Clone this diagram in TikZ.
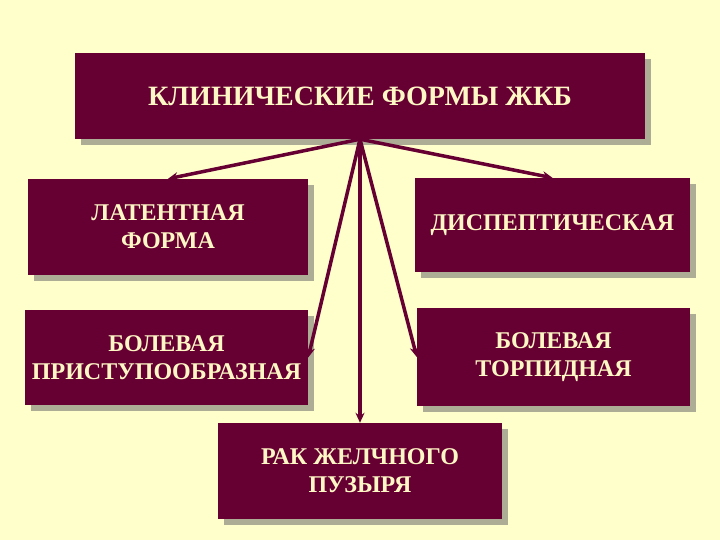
\documentclass[tikz,border=0pt]{standalone}
\usepackage{fontspec}
\setmainfont{Liberation Serif}
\usetikzlibrary{arrows.meta,shadows}
\definecolor{bgc}{HTML}{FFFFCC}
\definecolor{boxc}{HTML}{660033}
\definecolor{txtc}{HTML}{FFF8C4}
\definecolor{shc}{HTML}{ADAD96}
\tikzset{
  formbox/.style={rectangle, fill=boxc, text=txtc, inner sep=0pt, align=center,
    font=\fontsize{24}{28}\selectfont\bfseries,
    drop shadow={shadow xshift=6pt, shadow yshift=-6pt, fill=shc, opacity=1}},
  titlebox/.style={formbox, font=\fontsize{28}{32}\selectfont\bfseries},
  link/.style={draw=boxc, line width=3.5pt, -{Stealth[length=10pt,width=9pt]}}
}
\begin{document}
\begin{tikzpicture}[x=1pt,y=-1pt]
\fill[bgc] (0,0) rectangle (720,540);
\useasboundingbox (0,0) rectangle (720,540);
\node[titlebox, minimum width=570pt, minimum height=86pt] (top) at (360,96) {КЛИНИЧЕСКИЕ ФОРМЫ ЖКБ};
\node[formbox, minimum width=280pt, minimum height=96pt] (lat) at (168,227) {ЛАТЕНТНАЯ\\ФОРМА};
\node[formbox, minimum width=275pt, minimum height=94pt] (dys) at (552.5,225) {ДИСПЕПТИЧЕСКАЯ};
\node[formbox, minimum width=283pt, minimum height=95pt] (pri) at (166.5,357.5) {БОЛЕВАЯ\\ПРИСТУПООБРАЗНАЯ};
\node[formbox, minimum width=273pt, minimum height=98pt] (tor) at (553.5,357) {БОЛЕВАЯ\\ТОРПИДНАЯ};
\node[formbox, minimum width=284pt, minimum height=96pt] (rak) at (360,471) {РАК ЖЕЛЧНОГО\\ПУЗЫРЯ};
\draw[link] (top.south) -- (lat.north);
\draw[link] (top.south) -- (dys.north);
\draw[link] (top.south) -- (pri.east);
\draw[link] (top.south) -- (tor.west);
\draw[link] (top.south) -- (rak.north);
\end{tikzpicture}
\end{document}
